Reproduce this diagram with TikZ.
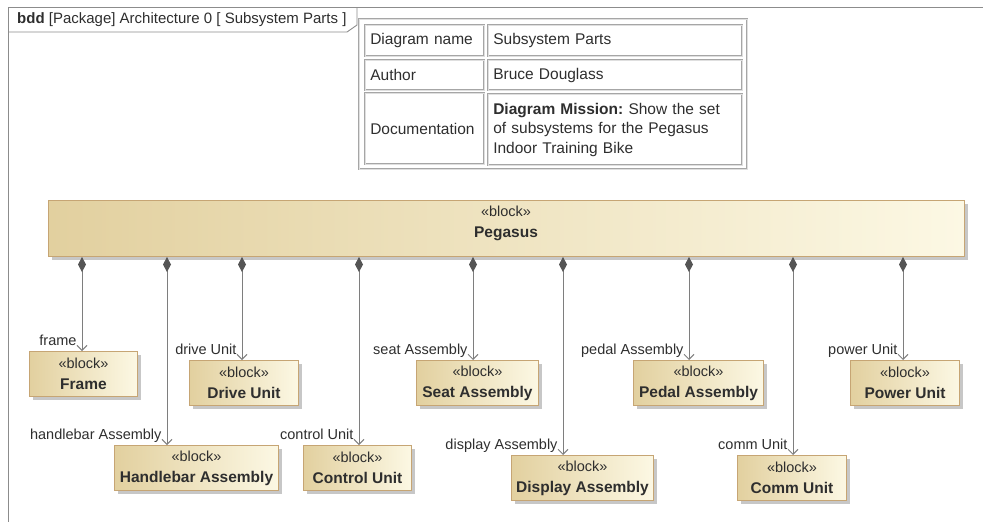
\documentclass[tikz,border=0pt]{standalone}
\usepackage{fontspec}
\setmainfont{Liberation Sans}
\usetikzlibrary{arrows.meta,shadows}
\definecolor{blkL}{HTML}{E2D09F}
\definecolor{blkR}{HTML}{FCF8E4}
\definecolor{blkEdge}{HTML}{C6A574}
\definecolor{wire}{HTML}{7E7E7E}
\definecolor{diam}{HTML}{555555}
\definecolor{ink}{HTML}{2E2E2E}
\definecolor{framecol}{HTML}{8C8C8C}
\frenchspacing
\begin{document}
\begin{tikzpicture}[x=1pt,y=-1pt,
  every node/.style={font=\fontsize{14.5}{18}\selectfont, text=ink},
  blk/.style={draw=blkEdge, line width=1pt, left color=blkL, right color=blkR,
    anchor=north west, align=center, inner sep=0pt,
    font=\fontsize{14.5}{21}\selectfont,
    drop shadow={shadow xshift=3pt, shadow yshift=-3pt, fill=black, opacity=0.22}},
  comp/.style={draw=wire, line width=1pt,
    arrows={Diamond[length=15pt,width=8pt,fill=diam,color=diam]-Straight Barb[length=5pt,width=10pt,color=wire]}},
  lbl/.style={pos=1, anchor=base east, xshift=-5pt, yshift=6pt, inner sep=0pt},
  cell/.style={draw=gray!70, line width=0.6pt, double=gray!25, double distance=0.7pt,
    anchor=north west, align=left, inner xsep=5pt, inner ysep=0pt,
    font=\fontsize{15.5}{19.5}\selectfont},
  frameline/.style={draw=framecol, line width=0.9pt}
]
\useasboundingbox (0,0) rectangle (983,522);

% name of a block, set a little larger than the stereotype
\newcommand\blkname[1]{{\fontsize{15.5}{21}\selectfont\bfseries #1}}

% diagram frame with its name tab
\draw[frameline] (983,7) -- (8,7) -- (8,522);
\draw[frameline] (8,32) -- (347,32) -- (357,25) -- (357,7);
\node[anchor=west, inner sep=0pt, font=\fontsize{15}{18}\selectfont] (hdr) at (17,20)
  {\textbf{bdd} [Package] Architecture 0 [ Subsystem Parts ]};

% diagram information table
\node[draw=gray!70, line width=0.6pt, double=gray!25, double distance=0.7pt,
  minimum width=388pt, minimum height=150pt, anchor=north west, inner sep=0pt] (tbl) at (359,19) {};
\node[cell, minimum width=119pt, minimum height=31pt, text width=109pt] (k1) at (365,25) {Diagram name};
\node[cell, minimum width=254pt, minimum height=31pt, text width=244pt] (v1) at (488,25) {Subsystem Parts};
\node[cell, minimum width=119pt, minimum height=30pt, text width=109pt] (k2) at (365,60) {Author};
\node[cell, minimum width=254pt, minimum height=30pt, text width=244pt] (v2) at (488,60) {Bruce Douglass};
\node[cell, minimum width=119pt, minimum height=71pt, text width=109pt] (k3) at (365,93) {Documentation};
\node[cell, minimum width=254pt, minimum height=71pt, text width=244pt] (v3) at (488,94)
  {\textbf{Diagram Mission:} Show the set\\of subsystems for the Pegasus\\Indoor Training Bike};

% top-level block
\node[blk, minimum width=916pt, minimum height=56pt] (pegasus) at (48,200) {};
\node[align=center, inner sep=0pt, font=\fontsize{14.5}{21}\selectfont] (pegtxt) at (506,223)
  {«block»\\\blkname{Pegasus}};

% subsystem blocks
\node[blk, minimum width=108pt, minimum height=45pt] (frame)   at (29,351)  {«block»\\\blkname{Frame}};
\node[blk, minimum width=109pt, minimum height=45pt] (drive)   at (189,360) {«block»\\\blkname{Drive Unit}};
\node[blk, minimum width=122pt, minimum height=45pt] (seat)    at (416,360) {«block»\\\blkname{Seat Assembly}};
\node[blk, minimum width=130pt, minimum height=45pt] (pedal)   at (633,360) {«block»\\\blkname{Pedal Assembly}};
\node[blk, minimum width=109pt, minimum height=45pt] (power)   at (850,360) {«block»\\\blkname{Power Unit}};
\node[blk, minimum width=164pt, minimum height=45pt] (handle)  at (114,445) {«block»\\\blkname{Handlebar Assembly}};
\node[blk, minimum width=108pt, minimum height=45pt] (control) at (303,445) {«block»\\\blkname{Control Unit}};
\node[blk, minimum width=142pt, minimum height=45pt] (display) at (511,455) {«block»\\\blkname{Display Assembly}};
\node[blk, minimum width=109pt, minimum height=45pt] (comm)    at (737,455) {«block»\\\blkname{Comm Unit}};

% x positions of the composition lines
\coordinate (xframe)   at (82,0);
\coordinate (xhandle)  at (167,0);
\coordinate (xdrive)   at (242,0);
\coordinate (xcontrol) at (359,0);
\coordinate (xseat)    at (473,0);
\coordinate (xdisplay) at (563,0);
\coordinate (xpedal)   at (689,0);
\coordinate (xcomm)    at (793,0);
\coordinate (xpower)   at (903,0);

% part compositions
\draw[comp] (pegasus.south -| xframe)   -- (frame.north -| xframe)     node[lbl] {frame};
\draw[comp] (pegasus.south -| xhandle)  -- (handle.north -| xhandle)   node[lbl] {handlebar Assembly};
\draw[comp] (pegasus.south -| xdrive)   -- (drive.north -| xdrive)     node[lbl] {drive Unit};
\draw[comp] (pegasus.south -| xcontrol) -- (control.north -| xcontrol) node[lbl] {control Unit};
\draw[comp] (pegasus.south -| xseat)    -- (seat.north -| xseat)       node[lbl] {seat Assembly};
\draw[comp] (pegasus.south -| xdisplay) -- (display.north -| xdisplay) node[lbl] {display Assembly};
\draw[comp] (pegasus.south -| xpedal)   -- (pedal.north -| xpedal)     node[lbl] {pedal Assembly};
\draw[comp] (pegasus.south -| xcomm)    -- (comm.north -| xcomm)       node[lbl] {comm Unit};
\draw[comp] (pegasus.south -| xpower)   -- (power.north -| xpower)     node[lbl] {power Unit};
\end{tikzpicture}
\end{document}
